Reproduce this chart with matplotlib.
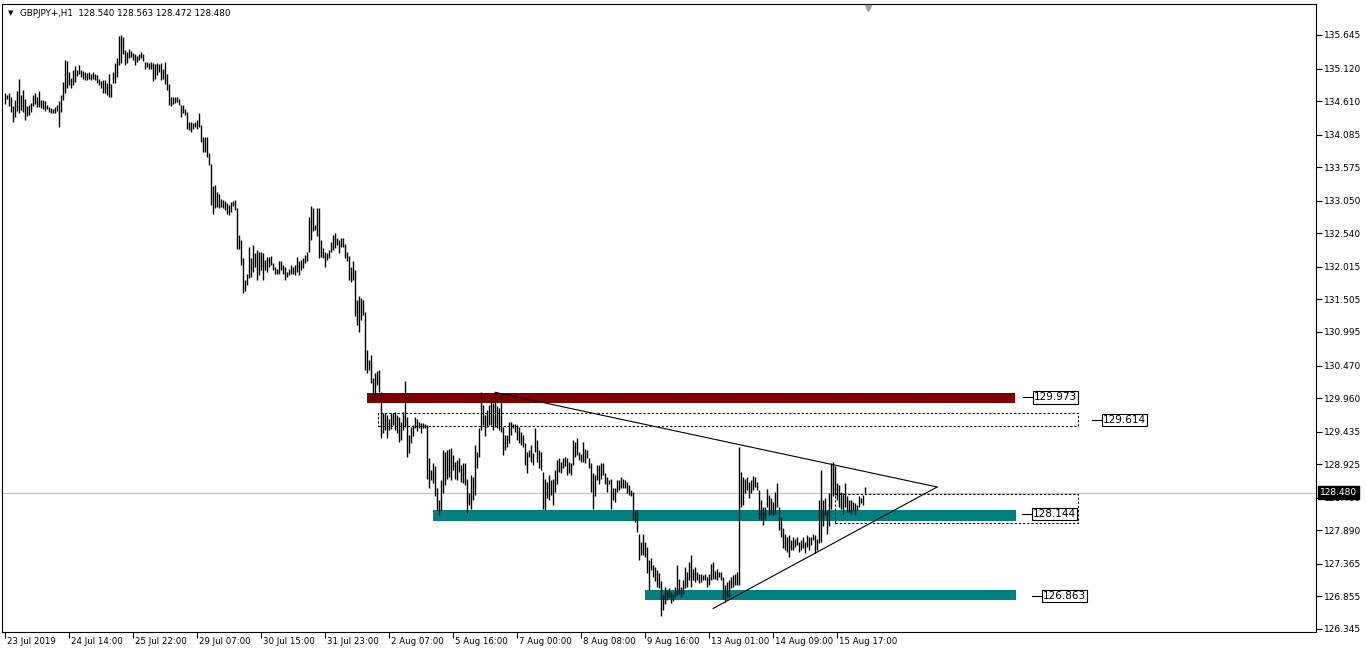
import matplotlib
matplotlib.use("Agg")
import matplotlib.pyplot as plt
import matplotlib.transforms as mtransforms
from matplotlib.patches import Rectangle

# GBPJPY H1 bars (high / low per hour)
highs = [
    134.74, 134.71, 134.74, 134.68, 134.53, 134.62, 134.77, 134.96, 134.70, 134.78,
    134.64, 134.53, 134.55, 134.58, 134.71, 134.73, 134.68, 134.77, 134.62, 134.62,
    134.61, 134.55, 134.52, 134.50, 134.48, 134.52, 134.55, 134.61, 134.70, 134.91,
    135.26, 135.23, 135.07, 134.97, 135.10, 135.16, 135.10, 135.17, 135.10, 135.08,
    135.07, 135.05, 135.07, 135.04, 135.07, 135.04, 135.02, 134.95, 134.92, 134.94,
    134.94, 134.89, 135.04,
    134.88, 135.07, 135.20, 135.28, 135.63, 135.64, 135.62, 135.41, 135.38, 135.43,
    135.39, 135.37, 135.35, 135.31, 135.34, 135.38, 135.35, 135.22, 135.22, 135.21,
    135.22, 135.20, 135.19, 135.20, 135.19, 135.20, 135.12, 135.22, 135.04, 134.88,
    134.68, 134.68, 134.67, 134.68, 134.65, 134.55, 134.55, 134.49, 134.44, 134.28,
    134.28, 134.27, 134.28, 134.31, 134.43, 134.24, 134.05, 134.05, 134.05, 133.79,
    133.63, 133.28, 133.29, 133.19, 133.16, 133.08, 133.06,
    133.04, 133.01, 132.98, 133.03, 133.05, 133.06, 132.93, 132.52, 132.44, 132.15,
    131.81, 131.91, 132.33, 132.15, 132.36, 132.23, 132.28, 132.25, 132.25, 132.23,
    132.12, 132.17, 132.17, 132.19, 132.07, 132.02, 131.98, 132.10, 132.11, 132.04,
    132.02, 131.94, 131.98, 132.04, 132.02, 132.05, 132.17, 132.10, 132.12, 132.15,
    132.20, 132.25, 132.80, 132.96, 132.93, 132.67, 132.94, 132.93, 132.44, 132.31,
    132.25, 132.23, 132.28, 132.41, 132.51,
    132.54, 132.46, 132.44, 132.46, 132.46, 132.38, 132.25, 132.19, 132.02, 132.10,
    131.97, 131.50, 131.56, 131.52, 131.50, 131.31, 130.71, 130.56, 130.64, 130.27,
    130.35, 130.38, 130.40, 130.06, 129.72, 129.73, 129.70, 129.64, 129.73, 129.73,
    129.75, 129.70, 129.67, 129.59, 129.75, 130.22, 129.67, 129.38, 129.51, 129.54,
    129.67, 129.64, 129.59, 129.57, 129.57, 129.56, 129.54, 129.02, 128.84, 128.94,
    128.89, 128.55, 128.37, 128.68, 129.15,
    129.12, 129.15, 129.17, 129.18, 129.07, 128.96, 128.99, 129.02, 128.91, 128.94,
    128.95, 128.70, 128.47, 128.76, 128.73, 129.23, 129.12, 129.49, 130.06, 129.85,
    129.69, 129.77, 129.85, 129.96, 129.88, 130.06, 129.83, 129.80, 130.03, 129.51,
    129.38, 129.38, 129.59, 129.58, 129.56, 129.55, 129.54, 129.51, 129.43, 129.38,
    129.25, 129.12, 129.15, 129.23, 129.10, 129.49, 129.30, 129.15, 129.12, 128.81,
    128.70, 128.65, 128.76, 128.68, 128.70,
    128.83, 128.99, 129.02, 128.96, 129.02, 129.04, 129.02, 128.96, 128.94, 129.30,
    129.28, 129.33, 129.12, 129.09, 129.28, 129.17, 129.15, 129.02, 128.94, 128.78,
    128.76, 128.91, 128.91, 128.94, 128.94, 128.78, 128.73, 128.68, 128.70, 128.55,
    128.55, 128.68, 128.68, 128.73, 128.70, 128.68, 128.65, 128.60, 128.52, 128.49,
    128.21, 128.21, 127.84, 127.71, 127.84, 127.71, 127.63, 127.42, 127.45, 127.35,
    127.32, 127.27, 127.22, 127.09, 126.90,
    127.00, 126.95, 126.98, 126.92, 126.90, 127.00, 127.34, 127.13, 127.00, 127.11,
    127.32, 127.24, 127.39, 127.50, 127.29, 127.32, 127.24, 127.21, 127.21, 127.19,
    127.21, 127.16, 127.21, 127.37, 127.39, 127.26, 127.29, 127.24, 127.24, 127.16,
    127.03, 127.08, 127.11, 127.16, 127.19, 127.21, 127.24, 129.20, 128.80, 128.73,
    128.70, 128.73, 128.65, 128.67, 128.74, 128.73, 128.65, 128.52, 128.36, 128.26,
    128.26, 128.54, 128.44, 128.39, 128.33,
    128.49, 128.63, 128.26, 128.10, 127.92, 127.84, 127.79, 127.82, 127.74, 127.79,
    127.76, 127.79, 127.71, 127.74, 127.79, 127.71, 127.82, 127.79, 127.79, 127.84,
    127.82, 127.76, 128.36, 128.83, 128.36, 128.39, 128.21, 128.47, 128.94, 128.96,
    128.89, 128.63, 128.60, 128.49, 128.47, 128.63, 128.42, 128.36, 128.36, 128.34,
    128.31, 128.29, 128.42, 128.39, 128.44, 128.563,
]
lows = [
    134.56, 134.65, 134.54, 134.44, 134.29, 134.36, 134.46, 134.42, 134.47, 134.44,
    134.32, 134.37, 134.39, 134.44, 134.53, 134.56, 134.52, 134.52, 134.50, 134.49,
    134.46, 134.48, 134.44, 134.42, 134.42, 134.42, 134.45, 134.21, 134.44, 134.62,
    134.73, 134.81, 134.86, 134.82, 134.86, 134.91, 135.00, 135.04, 134.99, 134.96,
    134.94, 134.94, 134.96, 134.94, 134.96, 134.94, 134.89, 134.86, 134.81, 134.73,
    134.73, 134.70, 134.68,
    134.68, 134.90, 134.90, 134.99, 135.17, 135.20, 135.35, 135.17, 135.21, 135.28,
    135.30, 135.25, 135.17, 135.22, 135.26, 135.28, 135.24, 135.12, 135.15, 135.12,
    135.12, 134.93, 134.95, 135.02, 135.07, 134.94, 134.96, 134.88, 134.78, 134.55,
    134.53, 134.57, 134.58, 134.60, 134.55, 134.36, 134.43, 134.39, 134.18, 134.15,
    134.13, 134.18, 134.21, 134.18, 134.21, 133.97, 133.81, 133.81, 133.74, 133.61,
    132.98, 132.85, 132.93, 132.95, 132.93, 132.95, 132.93,
    132.91, 132.85, 132.83, 132.88, 132.96, 132.91, 132.30, 132.30, 132.04, 131.60,
    131.63, 131.73, 131.84, 131.86, 131.94, 132.02, 131.81, 131.89, 131.97, 131.81,
    131.97, 131.94, 132.02, 132.04, 131.97, 131.91, 131.90, 131.91, 131.97, 131.91,
    131.81, 131.85, 131.89, 131.91, 131.90, 131.89, 131.94, 131.89, 131.97, 132.00,
    132.07, 132.10, 132.25, 132.44, 132.57, 132.59, 132.49, 132.15, 132.17, 132.15,
    132.02, 132.12, 132.15, 132.25, 132.28,
    132.31, 132.36, 132.23, 132.33, 132.33, 132.15, 132.10, 131.81, 131.78, 131.81,
    131.24, 131.11, 131.00, 131.18, 131.26, 130.40, 130.35, 130.40, 130.19, 129.93,
    129.98, 130.17, 130.06, 129.33, 129.41, 129.46, 129.33, 129.46, 129.47, 129.54,
    129.46, 129.41, 129.28, 129.30, 129.46, 129.51, 129.04, 129.10, 129.25, 129.36,
    129.49, 129.44, 129.49, 129.41, 129.49, 129.49, 128.70, 128.55, 128.68, 128.63,
    128.42, 128.21, 128.13, 128.21, 128.47,
    128.60, 128.70, 128.73, 128.68, 128.83, 128.70, 128.68, 128.81, 128.65, 128.63,
    128.60, 128.16, 128.29, 128.23, 128.37, 128.44, 128.86, 129.04, 129.46, 129.54,
    129.36, 129.51, 129.54, 129.54, 129.46, 129.51, 129.49, 129.46, 129.43, 129.07,
    129.15, 129.20, 129.25, 129.38, 129.49, 129.43, 129.30, 129.25, 129.23, 129.20,
    128.91, 128.78, 129.04, 128.96, 128.91, 129.12, 128.96, 128.86, 128.83, 128.23,
    128.21, 128.39, 128.37, 128.44, 128.29,
    128.49, 128.62, 128.81, 128.78, 128.86, 128.89, 128.76, 128.78, 128.76, 128.91,
    129.04, 129.07, 128.99, 128.96, 128.96, 128.94, 129.02, 128.86, 128.49, 128.23,
    128.42, 128.68, 128.62, 128.70, 128.76, 128.62, 128.49, 128.62, 128.23, 128.36,
    128.34, 128.49, 128.52, 128.55, 128.55, 128.55, 128.47, 128.44, 128.42, 128.05,
    128.02, 127.87, 127.42, 127.50, 127.50, 127.48, 127.22, 126.95, 127.27, 127.16,
    127.09, 127.01, 126.98, 126.55, 126.64,
    126.74, 126.80, 126.85, 126.75, 126.79, 126.85, 126.87, 126.90, 126.85, 126.90,
    126.98, 127.00, 127.11, 127.00, 127.11, 127.08, 127.11, 127.06, 127.08, 127.11,
    127.11, 127.00, 127.03, 127.11, 127.13, 127.13, 127.11, 127.16, 127.11, 126.82,
    126.77, 126.85, 126.85, 126.98, 127.00, 127.03, 127.03, 127.03, 128.26, 128.28,
    128.47, 128.52, 128.39, 128.47, 128.52, 128.57, 128.52, 128.07, 128.05, 127.97,
    128.07, 128.26, 128.13, 128.15, 128.13,
    128.15, 128.26, 127.89, 127.79, 127.61, 127.58, 127.55, 127.48, 127.58, 127.58,
    127.63, 127.66, 127.55, 127.58, 127.61, 127.53, 127.63, 127.58, 127.66, 127.74,
    127.53, 127.58, 127.69, 127.71, 127.95, 128.13, 127.84, 127.95, 128.23, 128.42,
    128.44, 128.36, 128.26, 128.23, 128.15, 128.26, 128.18, 128.18, 128.15, 128.21,
    128.13, 128.21, 128.26, 128.31, 128.29, 128.472,
]

symbol_line = "GBPJPY+,H1  128.540 128.563 128.472 128.480"
last_price = 128.480

date_labels = ["23 Jul 2019", "24 Jul 14:00", "25 Jul 22:00", "29 Jul 07:00",
               "30 Jul 15:00", "31 Jul 23:00", "2 Aug 07:00", "5 Aug 16:00",
               "7 Aug 00:00", "8 Aug 08:00", "9 Aug 16:00", "13 Aug 01:00",
               "14 Aug 09:00", "15 Aug 17:00"]
date_step = 32  # bars between time labels

price_ticks = [135.645, 135.120, 134.610, 134.085, 133.575, 133.050, 132.540,
               132.015, 131.505, 130.995, 130.470, 129.960, 129.435, 128.925,
               128.400, 127.890, 127.365, 126.855, 126.345]

# drawn objects: [first bar, last bar, low price, high price]
red_zone = [181.2, 505.2, 129.883, 130.040]
teal_zone_hi = [214.1, 505.6, 128.036, 128.208]
teal_zone_lo = [320.1, 505.6, 126.799, 126.955]
dash_zone_hi = [186.6, 536.6, 129.523, 129.727]
dash_zone_lo = [415.1, 536.6, 128.004, 128.458]
trend_down = [(245.2, 130.051), (466.2, 128.568)]
trend_up = [(354.2, 126.666), (466.2, 128.568)]
level_labels = ["129.973", "129.614", "128.144", "126.863"]
level_label_bars = [509.2, 543.7, 508.7, 513.7]

plt.rcParams['font.family'] = ['DejaVu Sans']

W, H = 1366, 655
fig = plt.figure(figsize=(W / 100, H / 100), dpi=100)
fig.patch.set_facecolor("white")
ax = fig.add_axes([2 / W, 1 - 632 / H, (1316 - 2) / W, (632 - 4) / H])
ax.set_xlim(-1.35, 655.65)
ax.set_ylim(126.298, 136.130)

# current price line
ax.axhline(last_price, color="#c0c0c0", lw=0.8, zorder=1)

# zones
for z, col in [(red_zone, "#800000"), (teal_zone_hi, "#008080"), (teal_zone_lo, "#008080")]:
    ax.add_patch(Rectangle((z[0], z[2]), z[1] - z[0], z[3] - z[2],
                           facecolor=col, edgecolor="none", zorder=2))
for z in [dash_zone_hi, dash_zone_lo]:
    ax.add_patch(Rectangle((z[0], z[2]), z[1] - z[0], z[3] - z[2],
                           facecolor="none", edgecolor="black", lw=0.75,
                           linestyle=(0, (2.2, 1.8)), zorder=2))

# price bars
x = list(range(len(highs)))
ax.vlines(x, lows, highs, color="black", linewidth=1.0, zorder=3)

# trend lines
for t in [trend_down, trend_up]:
    ax.plot([t[0][0], t[1][0]], [t[0][1], t[1][1]], color="black", lw=0.8, zorder=4)

# price labels of the levels
for lab, bx in zip(level_labels, level_label_bars):
    p = float(lab)
    ax.plot([bx, bx + 5], [p, p], color="black", lw=0.8, zorder=4)
    ax.text(bx + 5.5, p, lab, fontsize=7.5, va="center", ha="left", zorder=5,
            bbox=dict(boxstyle="square,pad=0.12", fc="white", ec="black", lw=0.8))

# axes frame and ticks
for s in ax.spines.values():
    s.set_linewidth(0.8)
ax.yaxis.tick_right()
ax.set_yticks(price_ticks)
ax.set_yticklabels([f"{v:.3f}" for v in price_ticks])
ax.tick_params(axis="y", direction="out", length=4, width=0.8, pad=1.5, labelsize=6.5)
ticks_x = [i * date_step for i in range(len(date_labels))]
ax.set_xticks(ticks_x)
ax.set_xticklabels([])
ax.tick_params(axis="x", direction="out", length=4, width=0.8)
for tx, lab in zip(ticks_x, date_labels):
    ax.annotate(lab, xy=(tx, 0), xycoords=("data", "axes fraction"),
                xytext=(2, -5), textcoords="offset pixels",
                fontsize=6.2, ha="left", va="top", annotation_clip=False)

# current price box on the axis
ax.annotate(f"{last_price:.3f}", xy=(1, last_price), xycoords=("axes fraction", "data"),
            xytext=(4, 0), textcoords="offset pixels", fontsize=6.5, color="white",
            ha="left", va="center", annotation_clip=False, zorder=10,
            bbox=dict(boxstyle="square,pad=0.25", fc="black", ec="black"))

# shift marker at the top
trans = mtransforms.blended_transform_factory(ax.transData, ax.transAxes)
ax.plot([431.6], [0.994], marker="v", color="#a0a0a0", markersize=5,
        transform=trans, clip_on=False, zorder=6)

# symbol header
fig.text(8 / W, 1 - 13 / H, "▼", fontsize=5, va="center", ha="left")
fig.text(20 / W, 1 - 13 / H, symbol_line, fontsize=6.3, va="center", ha="left")

fig.savefig("out.png", dpi=100)
